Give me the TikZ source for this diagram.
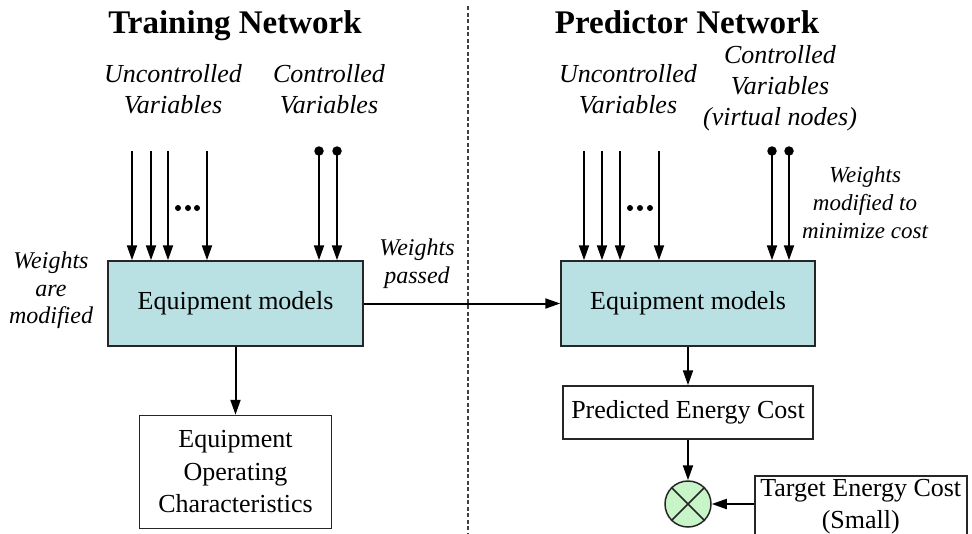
\documentclass[tikz,border=0pt]{standalone}
\usepackage{fontspec}
\setmainfont{Liberation Serif}
\usetikzlibrary{arrows.meta}
\definecolor{modelfill}{HTML}{B9E0E3}
\definecolor{mixfill}{HTML}{C8F5C8}
\begin{document}
\begin{tikzpicture}[x=1pt,y=-1pt,
  title/.style={font=\fontsize{33pt}{38pt}\selectfont\bfseries, inner sep=0pt, anchor=base},
  varlabel/.style={font=\fontsize{26pt}{31pt}\selectfont\itshape, align=center, inner sep=0pt, anchor=north},
  weightnote/.style={font=\fontsize{24pt}{27.5pt}\selectfont\itshape, align=center, inner sep=0pt, anchor=north},
  smallnote/.style={font=\fontsize{23pt}{28pt}\selectfont\itshape, align=center, inner sep=0pt, anchor=north},
  block/.style={draw=black!85, line width=1.5pt, font=\fontsize{26pt}{32.5pt}\selectfont, align=center, inner sep=0pt},
  model/.style={block, fill=modelfill},
  flow/.style={line width=2pt, -{Triangle[length=15pt,width=10pt]}},
  pin/.style={circle, fill=black, inner sep=0pt, minimum size=9.5pt},
  ellip/.style={circle, fill=black, inner sep=0pt, minimum size=6pt},
]
\useasboundingbox (0,0) rectangle (972,533);

% divider between the two halves
\draw[line width=1.1pt, black!75, dash pattern=on 4pt off 2.5pt] (468,6) -- (468,533);

% headings
\node[title] (ttitle) at (235,33) {Training Network};
\node[title] (ptitle) at (687,33) {Predictor Network};

% input labels
\node[varlabel] (tunc) at (173,64) {Uncontrolled\\Variables};
\node[varlabel] (tctl) at (329,64) {Controlled\\Variables};
\node[varlabel] (punc) at (628,64) {Uncontrolled\\Variables};
\node[varlabel] (pctl) at (780,45) {Controlled\\Variables\\(virtual nodes)};

% weight notes
\node[weightnote] (wmod) at (51,252) {Weights\\are\\modified};
\node[weightnote] (wpass) at (417,239) {Weights\\passed};
\node[smallnote] (wmin) at (865,166) {Weights\\modified to\\minimize cost};

% blocks
\node[model, minimum width=255pt, minimum height=85pt] (tmodel) at (235.5,303.5) {Equipment models};
\node[model, minimum width=254pt, minimum height=85pt] (pmodel) at (688,303.5) {Equipment models};
\node[block, minimum width=192pt, minimum height=113pt] (eoc) at (235.5,472) {Equipment\\Operating\\Characteristics};
\node[block, minimum width=250pt, minimum height=53pt] (pred) at (688,412.5) {Predicted Energy Cost};
\node[circle, draw=black!85, line width=1.5pt, fill=mixfill, minimum size=46pt, inner sep=0pt] (mix) at (688,504) {};
\node[block, minimum width=212pt, minimum height=62pt, anchor=north west] (target) at (754,475) {Target Energy Cost\\(Small)};
\draw[line width=1.5pt, black!85] (mix.north east) -- (mix.south west) (mix.north west) -- (mix.south east);

% training inputs
\foreach \x [count=\i] in {132,151,168,207} {
  \coordinate (tu\i) at (\x,151);
  \draw[flow] (tu\i) -- (tu\i |- tmodel.north);
}
\foreach \x [count=\i] in {319,337} {
  \node[pin] (tc\i) at (\x,151) {};
  \draw[flow] (tc\i.center) -- (tc\i |- tmodel.north);
}
\foreach \x [count=\i] in {178,188,197} \node[ellip] (td\i) at (\x,208) {};

% predictor inputs
\foreach \x [count=\i] in {584,602,620,659} {
  \coordinate (pu\i) at (\x,151);
  \draw[flow] (pu\i) -- (pu\i |- pmodel.north);
}
\foreach \x [count=\i] in {772,789} {
  \node[pin] (pc\i) at (\x,151) {};
  \draw[flow] (pc\i.center) -- (pc\i |- pmodel.north);
}
\foreach \x [count=\i] in {630,640,650} \node[ellip] (pd\i) at (\x,208) {};

% flows between blocks
\draw[flow] (tmodel.east) -- (pmodel.west);
\draw[flow] (tmodel.south) -- (eoc.north);
\draw[flow] (pmodel.south) -- (pred.north);
\draw[flow] (pred.south) -- (mix.north);
\draw[flow] (mix.east -| target.west) -- (mix.east);
\end{tikzpicture}
\end{document}
